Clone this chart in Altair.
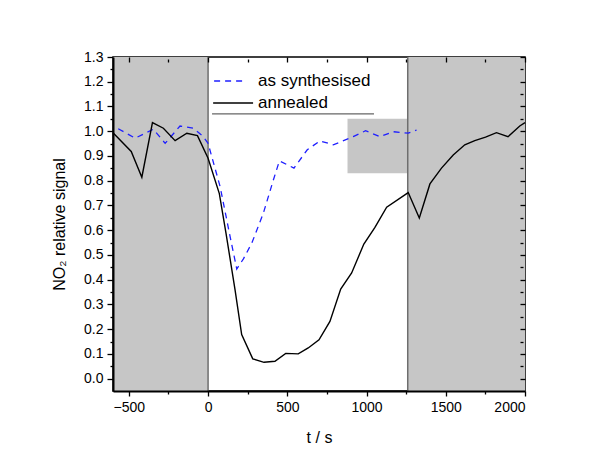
import altair as alt
import pandas as pd

# ---- data ----
annealed_t = [-600, -485, -418, -351, -282, -208, -134, -67, 0, 71, 113, 170, 212, 282, 353, 422,
              490, 569, 632, 700, 769, 837, 906, 983, 1053, 1127, 1263, 1333, 1400, 1473, 1547,
              1620, 1683, 1751, 1820, 1893, 1967, 2000]
annealed_v = [0.994, 0.918, 0.814, 1.035, 1.012, 0.962, 0.992, 0.982, 0.891, 0.748, 0.588, 0.36,
              0.178, 0.08, 0.066, 0.07, 0.102, 0.10, 0.124, 0.157, 0.231, 0.362, 0.427, 0.544,
              0.611, 0.693, 0.752, 0.649, 0.787, 0.851, 0.904, 0.945, 0.962, 0.976, 0.994, 0.978,
              1.021, 1.035]

synth_t = [-567, -460, -345, -271, -177, -93, -30, 0, 76, 139, 181, 223, 276, 349, 412, 450, 542,
           626, 706, 790, 916, 994, 1084, 1168, 1263, 1316]
synth_v = [1.01, 0.972, 1.008, 0.951, 1.021, 1.012, 0.978, 0.951, 0.776, 0.574, 0.443, 0.484,
           0.548, 0.669, 0.803, 0.88, 0.851, 0.925, 0.961, 0.945, 0.978, 1.002, 0.978, 0.998,
           0.992, 1.005]

# shaded regions (t start, t end, signal low, signal high)
shade_x = [-600, 1260, 880]
shade_x2 = [0, 2000, 1260]
shade_y = [-0.05, -0.05, 0.83]
shade_y2 = [1.3, 1.3, 1.05]

boundary_t = [0, 1260]

legend_labels = ["as synthesised", "annealed"]
legend_y = [1.203, 1.114]
underline_t = [25, 1047]
underline_y = 1.07

X_DOMAIN = [-600, 2000]
Y_DOMAIN = [-0.05, 1.3]
FONT = "Liberation Sans"

xs = alt.Scale(domain=X_DOMAIN, nice=False, zero=False)
ys = alt.Scale(domain=Y_DOMAIN, nice=False, zero=False)

x_major = "abs(datum.value % 500) < 0.5"
y_major = "abs(round(datum.value*10) - datum.value*10) < 0.01"

x_vals = list(range(-500, 2001, 250))
y_vals = [round(0.05 * i, 2) for i in range(0, 27)]

x_axis = alt.Axis(values=x_vals, title="t / s", format="d", labelExpr=f"{x_major} ? datum.label : ''",
                  grid=False, tickSize={"condition": {"test": x_major, "value": 5}, "value": 3},
                  labelOverlap=False, labelFontSize=14, titleFontSize=16, titleFontWeight="normal",
                  labelFont=FONT, titleFont=FONT, domainColor="black", domainWidth=2,
                  tickColor="black", tickWidth=1.3, labelColor="black", titleColor="black",
                  labelPadding=4, titlePadding=15, zindex=2)
y_axis = alt.Axis(values=y_vals, title="NO₂ relative signal", format=".1f",
                  labelExpr=f"{y_major} ? datum.label : ''",
                  grid=False, tickSize={"condition": {"test": y_major, "value": 6}, "value": 3},
                  labelOverlap=False, labelFontSize=14, titleFontSize=16, titleFontWeight="normal",
                  labelFont=FONT, titleFont=FONT, domainColor="black", domainWidth=2,
                  tickColor="black", tickWidth=1.3, labelColor="black", titleColor="black",
                  labelPadding=4, titlePadding=16, zindex=2)

x_top = alt.Axis(values=x_vals, orient="top", labels=False, title=None, domain=False, grid=False,
                 tickSize={"condition": {"test": x_major, "value": 5}, "value": 3},
                 offset=-5, tickColor="black", tickWidth=1.3, zindex=2)
y_right = alt.Axis(values=y_vals, orient="right", labels=False, title=None, domain=False, grid=False,
                   tickSize={"condition": {"test": y_major, "value": 5}, "value": 3},
                   offset=-5, tickColor="black", tickWidth=1.3, zindex=2)

shade_df = pd.DataFrame({"x": shade_x, "x2": shade_x2, "y": shade_y, "y2": shade_y2})
shades = alt.Chart(shade_df).mark_rect(color="#c6c6c6").encode(
    x=alt.X("x:Q", scale=xs, axis=x_axis), x2="x2", y=alt.Y("y:Q", scale=ys, axis=y_axis), y2="y2")

bounds = alt.Chart(pd.DataFrame({"t": boundary_t})).mark_rule(color="#6e6e6e", strokeWidth=1.5).encode(
    x=alt.X("t:Q", scale=xs, axis=x_top), y=alt.value(0), y2=alt.value(334))

under = alt.Chart(pd.DataFrame({"a": [underline_t[0]], "b": [underline_t[1]], "y": [underline_y]})).mark_rule(
    color="#666666", strokeWidth=1.2).encode(
    x=alt.X("a:Q", scale=xs, axis=None), x2="b", y=alt.Y("y:Q", scale=ys, axis=y_right))

synth_df = pd.DataFrame({"t": synth_t, "v": synth_v})
annealed_df = pd.DataFrame({"t": annealed_t, "v": annealed_v})

line_synth = alt.Chart(synth_df).mark_line(color="#1f1fff", strokeWidth=1.3, strokeDash=[6, 5]).encode(
    x=alt.X("t:Q", scale=xs, axis=None), y=alt.Y("v:Q", scale=ys, axis=None))
line_ann = alt.Chart(annealed_df).mark_line(color="black", strokeWidth=1.4).encode(
    x=alt.X("t:Q", scale=xs, axis=None), y=alt.Y("v:Q", scale=ys, axis=None))

leg_df = pd.DataFrame({"label": legend_labels, "y": legend_y, "x1": [38, 32], "x2": [246, 284],
                       "tx": [315, 315]})
leg_line_s = alt.Chart(leg_df.iloc[[0]]).mark_rule(color="#1f1fff", strokeWidth=1.3, strokeDash=[6, 5]).encode(
    x=alt.X("x1:Q", scale=xs, axis=None), x2="x2", y=alt.Y("y:Q", scale=ys, axis=None))
leg_line_a = alt.Chart(leg_df.iloc[[1]]).mark_rule(color="black", strokeWidth=1.6).encode(
    x=alt.X("x1:Q", scale=xs, axis=None), x2="x2", y=alt.Y("y:Q", scale=ys, axis=None))
leg_text = alt.Chart(leg_df).mark_text(align="left", baseline="middle", fontSize=17, font=FONT,
                                       color="black").encode(
    x=alt.X("tx:Q", scale=xs, axis=None), y=alt.Y("y:Q", scale=ys, axis=None), text="label:N")

chart = alt.layer(shades, bounds, under, line_synth, line_ann, leg_line_s, leg_line_a, leg_text).resolve_axis(
    x="independent", y="independent"
).properties(
    width=412, height=334, padding={"left": 113, "top": 57, "right": 75, "bottom": 66},
    autosize=alt.AutoSizeParams(type="none"), background="white"
).configure_view(stroke="black", strokeWidth=1.5)

chart.save("out.html", embed_options={"renderer": "svg", "actions": False})
